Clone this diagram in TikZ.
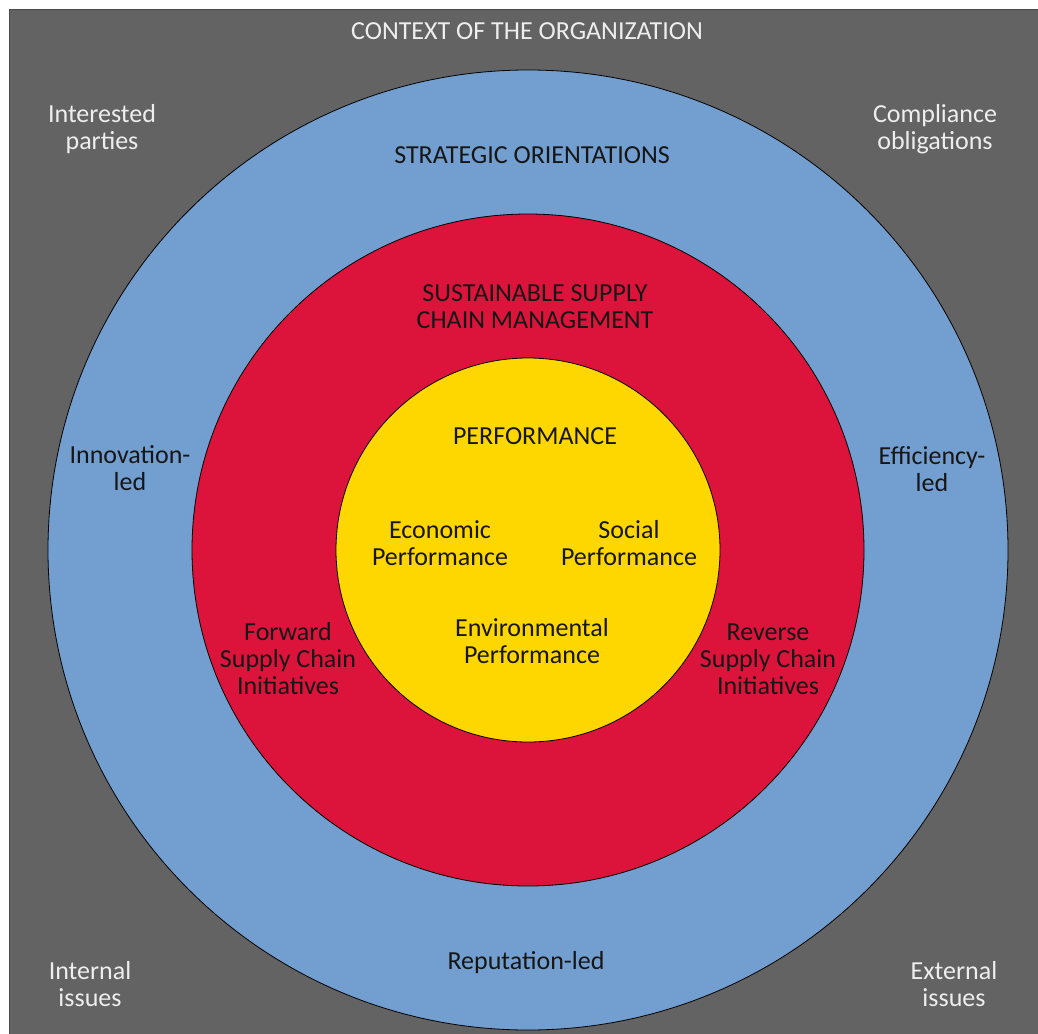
\documentclass[tikz,border=0pt]{standalone}
\usepackage{fontspec}
\setmainfont{Carlito}
\usepackage{xcolor}
\definecolor{ContextGray}{HTML}{636363}
\definecolor{FrameGray}{HTML}{4A4A4A}
\definecolor{StrategyBlue}{HTML}{729FCF}
\definecolor{SupplyRed}{HTML}{DC143C}
\definecolor{PerfGold}{HTML}{FFD700}
\definecolor{LightText}{HTML}{EEEEEE}
\definecolor{DarkText}{HTML}{161616}
\usepackage{tikz}

\tikzset{
  ring/.style={circle, draw=black, line width=0.8pt, fill=#1, inner sep=0pt},
  lighttxt/.style={text=LightText, align=center, inner sep=0pt,
    font=\fontsize{26}{27}\selectfont},
  darktxt/.style={text=DarkText, align=center, inner sep=0pt,
    font=\fontsize{26}{27}\selectfont},
}

\begin{document}
\begin{tikzpicture}[x=1pt, y=-1pt]
  % Canvas (pixel-like units, y pointing down)
  \useasboundingbox (0,0) rectangle (1038,1033);
  \fill[white] (0,0) rectangle (1038,1033);
  \def\cx{528}
  \def\cy{550}

  % Context frame
  \draw[FrameGray, fill=ContextGray] (9,9) rectangle (1040,1036);

  % Nested rings
  \node[ring=StrategyBlue, minimum size=960pt] (strategy) at (\cx,\cy) {};
  \node[ring=SupplyRed, minimum size=672pt] (sscm) at (\cx,\cy) {};
  \node[ring=PerfGold, minimum size=384pt] (perf) at (\cx,\cy) {};

  % Context of the organization
  \node[lighttxt] (context) at (527,31) {CONTEXT OF THE ORGANIZATION};
  \node[lighttxt] (parties) at (102,129) {Interested\\parties};
  \node[lighttxt] (compliance) at (935,129) {Compliance\\obligations};
  \node[lighttxt] (internal) at (90,984) {Internal\\issues};
  \node[lighttxt] (external) at (954,984) {External\\issues};

  % Strategic orientations
  \node[darktxt] (orient) at (532,155) {STRATEGIC ORIENTATIONS};
  \node[darktxt] (innov) at (130,468) {Innovation-\\led};
  \node[darktxt] (effic) at (932,469) {Efficiency-\\led};
  \node[darktxt] (reput) at (526,963) {Reputation-led};

  % Sustainable supply chain management
  \node[darktxt] (sscmhead) at (535,307) {SUSTAINABLE SUPPLY\\CHAIN MANAGEMENT};
  \node[darktxt] (forward) at (288,659) {Forward\\Supply Chain\\Initiatives};
  \node[darktxt] (reverse) at (768,659) {Reverse\\Supply Chain\\Initiatives};

  % Performance
  \node[darktxt] (perfhead) at (535,436) {PERFORMANCE};
  \node[darktxt] (econ) at (440,543) {Economic\\Performance};
  \node[darktxt] (social) at (629,543) {Social\\Performance};
  \node[darktxt] (envir) at (532,641) {Environmental\\Performance};
\end{tikzpicture}
\end{document}
